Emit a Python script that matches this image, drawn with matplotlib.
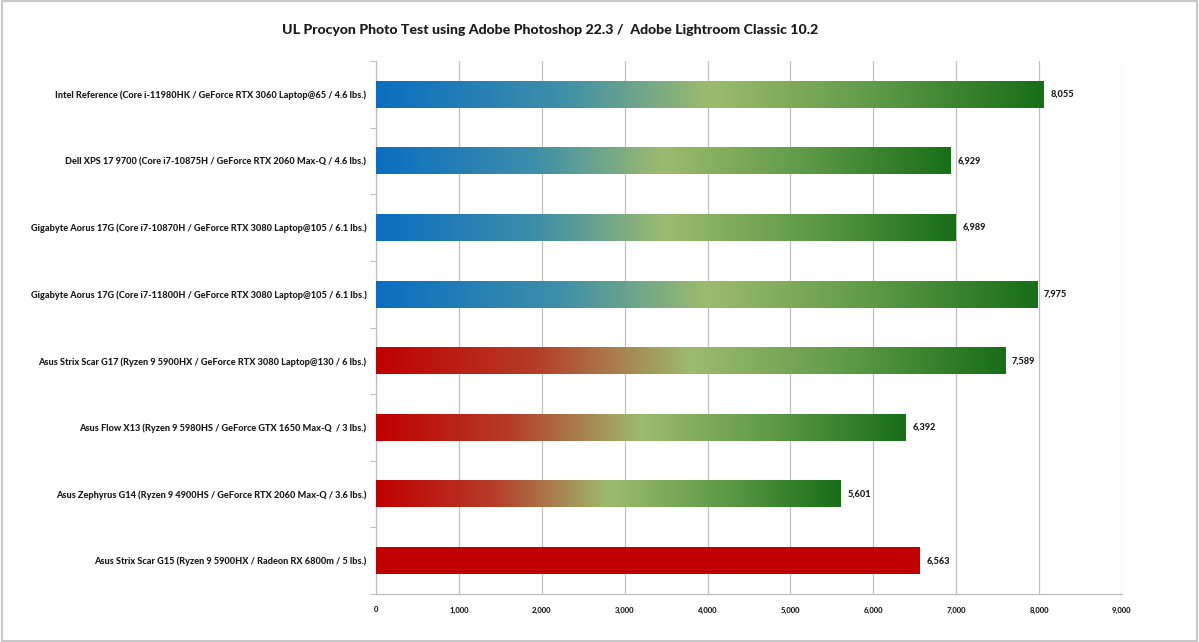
import matplotlib
matplotlib.use("Agg")
import matplotlib.pyplot as plt
import numpy as np
from matplotlib.colors import LinearSegmentedColormap
from matplotlib.patches import Rectangle

categories = [
    "Intel Reference (Core i-11980HK / GeForce RTX 3060 Laptop@65 / 4.6 lbs.)",
    "Dell XPS 17 9700 (Core i7-10875H / GeForce RTX 2060 Max-Q / 4.6 lbs.)",
    "Gigabyte Aorus 17G (Core i7-10870H / GeForce RTX 3080 Laptop@105 / 6.1 lbs.)",
    "Gigabyte Aorus 17G (Core i7-11800H / GeForce RTX 3080 Laptop@105 / 6.1 lbs.)",
    "Asus Strix Scar G17 (Ryzen 9 5900HX / GeForce RTX 3080 Laptop@130 / 6 lbs.)",
    "Asus Flow X13 (Ryzen 9 5980HS / GeForce GTX 1650 Max-Q  / 3 lbs.)",
    "Asus Zephyrus G14 (Ryzen 9 4900HS / GeForce RTX 2060 Max-Q / 3.6 lbs.)",
    "Asus Strix Scar G15 (Ryzen 9 5900HX / Radeon RX 6800m / 5 lbs.)",
]
values = [8055, 6929, 6989, 7975, 7589, 6392, 5601, 6563]
fill_style = ["intel", "intel", "intel", "intel", "amd", "amd", "amd", "solid"]
title = "UL Procyon Photo Test using Adobe Photoshop 22.3 /  Adobe Lightroom Classic 10.2"
xticks = [0, 1000, 2000, 3000, 4000, 5000, 6000, 7000, 8000, 9000]

plt.rcParams['font.family'] = ['Lato', 'DejaVu Sans']

intel_cmap = LinearSegmentedColormap.from_list(
    "intel", [(0.0, "#0a6ec2"), (0.28, "#3f8fa8"), (0.5, "#9dbb6e"), (0.75, "#5e9a46"), (1.0, "#196e18")])
amd_cmap = LinearSegmentedColormap.from_list(
    "amd", [(0.0, "#c00000"), (0.25, "#b53c28"), (0.5, "#9dbb6e"), (0.75, "#5e9a46"), (1.0, "#196e18")])

fig = plt.figure(figsize=(11.99, 6.42), dpi=100)
ax = fig.add_axes([376/1199, 1-594/642, (1122-376)/1199, (594-61)/642])

n = len(categories)
ypos = np.arange(n)
bars = ax.barh(ypos, values, height=0.4, color="none", edgecolor="none", zorder=3)

grad = np.linspace(0, 1, 256).reshape(1, -1)
for bar, style in zip(bars, fill_style):
    x0, y0 = bar.get_x(), bar.get_y()
    w, h = bar.get_width(), bar.get_height()
    if style == "solid":
        bar.set_facecolor("#c00000")
    else:
        cmap = intel_cmap if style == "intel" else amd_cmap
        ax.imshow(grad, cmap=cmap, extent=[x0, x0 + w, y0 + h, y0], aspect="auto",
                  interpolation="bilinear", zorder=3)

for bar, v in zip(bars, values):
    ax.annotate(f"{v:,}", xy=(bar.get_width(), bar.get_y() + bar.get_height()/2),
                xytext=(5, 0), textcoords="offset points", va="center", ha="left",
                fontsize=6.6, fontweight=900, color="#1a1a1a")

ax.set_xlim(0, 9000)
ax.set_ylim(n - 0.5, -0.5)
ax.set_xticks(xticks)
ax.set_xticklabels([f"{t:,}" for t in xticks], fontsize=5.6, fontweight=900, color="#1a1a1a")
ax.set_yticks(ypos)
ax.set_yticklabels(categories, fontsize=6.6, fontweight=900, color="#1a1a1a")
ax.tick_params(axis="y", length=0, pad=7)
ax.tick_params(axis="x", length=0, pad=9)
ax.set_yticks(np.arange(-0.5, n, 1), minor=True)
ax.tick_params(axis="y", which="minor", length=4, color="#bfbfbf", width=0.8)
ax.grid(axis="x", color="#c0c0c0", linewidth=0.9, zorder=0)
for s in ["top", "right"]:
    ax.spines[s].set_visible(False)
for s in ["left", "bottom"]:
    ax.spines[s].set_color("#bfbfbf")
    ax.spines[s].set_linewidth(0.9)

fig.text(550/1199, 1-30/642, title, ha="center", va="center", fontsize=10.2, fontweight=900, color="#1a1a1a")

fig.patches.append(Rectangle((0.002, 0.002), 0.996, 0.996, transform=fig.transFigure,
                             fill=False, edgecolor="#c8c8c8", linewidth=1.5))

fig.savefig("out.png", dpi=100, facecolor="white")
